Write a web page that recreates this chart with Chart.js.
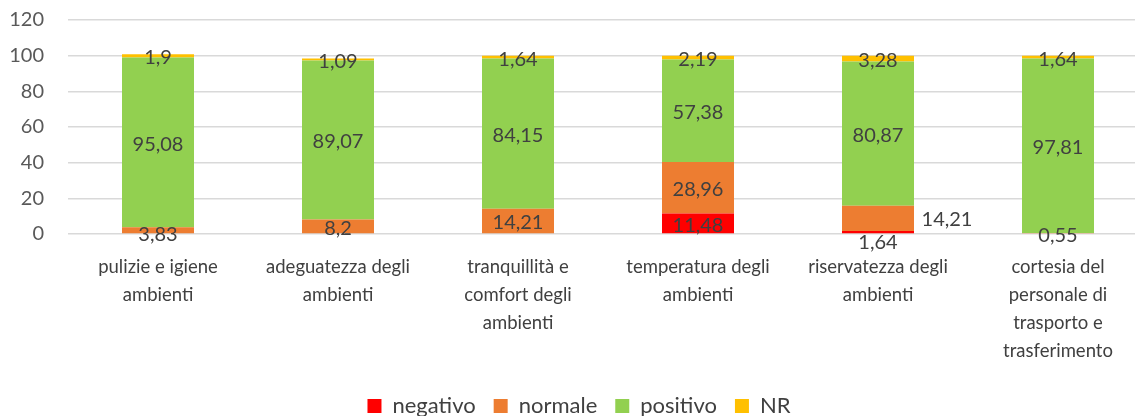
<!DOCTYPE html>
<html>

<head>
  <meta charset="utf-8">
  <title>Document</title>
  <style>
    body { margin: 0; overflow: hidden; background: #fff; }
    #wrap { width: 1180px; height: 416px; }
  </style>
</head>

<body>
  <div id="wrap"><canvas id="chart" width="1180" height="416"></canvas></div>
  <script src="https://cdn.jsdelivr.net/npm/chart.js"></script>
  <script>
    const categories = [
      ["pulizie e igiene", "ambienti"],
      ["adeguatezza degli", "ambienti"],
      ["tranquillità e", "comfort degli", "ambienti"],
      ["temperatura degli", "ambienti"],
      ["riservatezza degli", "ambienti"],
      ["cortesia del", "personale di", "trasporto e", "trasferimento"]
    ];
    const negativo = [null, null, null, 11.48, 1.64, null];
    const normale = [3.83, 8.2, 14.21, 28.96, 14.21, 0.55];
    const positivo = [95.08, 89.07, 84.15, 57.38, 80.87, 97.81];
    const nr = [1.9, 1.09, 1.64, 2.19, 3.28, 1.64];
    const yTicks = [0, 20, 40, 60, 80, 100, 120];

    // a couple of labels were moved by hand in the original
    const labelShift = { "1-4": [69, -1], "0-4": [0, 8], "1-0": [0, 2] };

    const valueLabels = {
      id: 'valueLabels',
      afterDatasetsDraw(chart) {
        const ctx = chart.ctx;
        ctx.save();
        ctx.font = '20px Lato, "Open Sans", sans-serif';
        ctx.fillStyle = '#404040';
        ctx.textAlign = 'center';
        ctx.textBaseline = 'middle';
        chart.data.datasets.forEach((ds, i) => {
          chart.getDatasetMeta(i).data.forEach((bar, j) => {
            const v = ds.data[j];
            if (v == null) return;
            const shift = labelShift[i + '-' + j] || [0, 0];
            const y = (bar.y + bar.base) / 2;
            ctx.fillText(String(v).replace('.', ','), bar.x + shift[0], y + shift[1] + 2);
          });
        });
        ctx.restore();
      }
    };

    const ctx = document.getElementById('chart').getContext('2d');
    new Chart(ctx, {
      type: 'bar',
      data: {
        labels: categories,
        datasets: [
          { label: 'negativo', data: negativo, backgroundColor: '#FF0000' },
          { label: 'normale', data: normale, backgroundColor: '#ED7D31' },
          { label: 'positivo', data: positivo, backgroundColor: '#92D050' },
          { label: 'NR', data: nr, backgroundColor: '#FFC000' }
        ]
      },
      options: {
        responsive: false,
        animation: false,
        categoryPercentage: 1,
        barPercentage: 0.4,
        layout: { padding: { left: 10, right: 32, top: 0, bottom: 0 } },
        plugins: {
          tooltip: { enabled: false },
          legend: {
            position: 'bottom',
            maxHeight: 39,
            labels: {
              boxWidth: 14,
              boxHeight: 14,
              padding: 18,
              color: '#404040',
              font: { family: 'Lato, "Open Sans", sans-serif', size: 22 }
            }
          }
        },
        scales: {
          x: {
            stacked: true,
            grid: { display: false },
            border: { display: false },
            ticks: {
              color: '#404040',
              maxRotation: 0,
              autoSkip: false,
              padding: 11,
              font: { family: 'Lato, "Open Sans", sans-serif', size: 18.5, lineHeight: 1.52 }
            },
            afterFit(s) { s.height = 143; }
          },
          y: {
            stacked: true,
            min: 0,
            max: 120,
            afterBuildTicks(s) { s.ticks = yTicks.map(v => ({ value: v })); },
            grid: { color: '#d9d9d9', lineWidth: 1.5, drawTicks: true, tickLength: 16, tickColor: 'rgba(0,0,0,0)' },
            border: { display: false },
            ticks: {
              color: '#595959',
              padding: 8,
              font: { family: 'Lato, "Open Sans", sans-serif', size: 20 }
            },
            afterFit(s) { s.width = 58; }
          }
        }
      },
      plugins: [valueLabels]
    });
  </script>
</body>

</html>
